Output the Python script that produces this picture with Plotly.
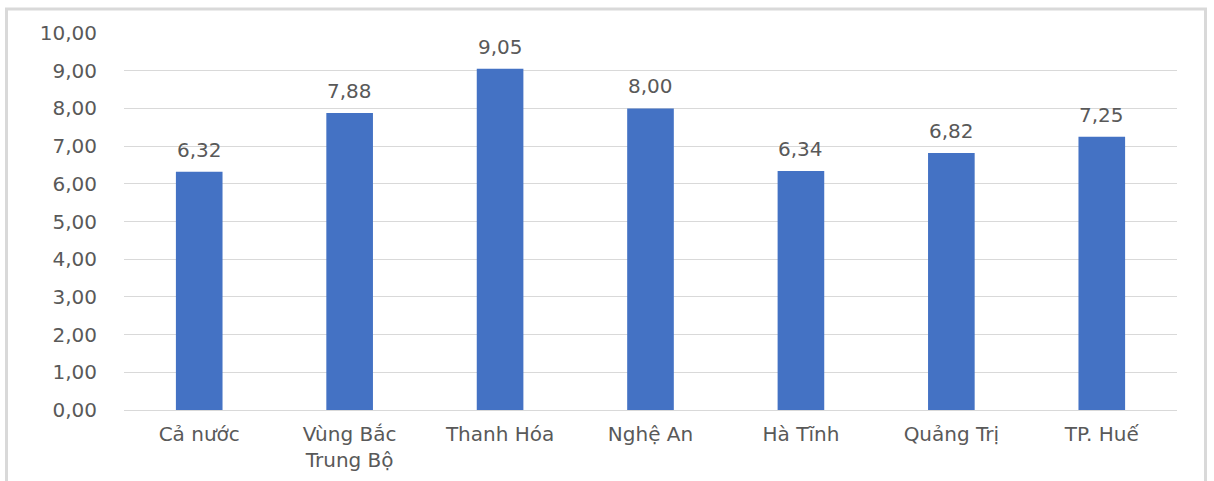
import plotly.graph_objects as go

categories = ["Cả nước", "Vùng Bắc<br>Trung Bộ", "Thanh Hóa", "Nghệ An", "Hà Tĩnh", "Quảng Trị", "TP. Huế"]
values = [6.32, 7.88, 9.05, 8.00, 6.34, 6.82, 7.25]
y_ticks = [0, 1, 2, 3, 4, 5, 6, 7, 8, 9, 10]

W, H = 1214, 481
L, R, T, B = 124, 37, 33, 71
pw, ph = W - L - R, H - T - B

font_family = "DejaVu Sans"
text_color = "#595959"
fsize = 20

fig = go.Figure(go.Bar(
    x=categories, y=values,
    marker=dict(color="#4472C4", line=dict(width=0)),
    width=0.31,
    hoverinfo="x+y",
))

for c, v in zip(categories, values):
    fig.add_annotation(
        x=c, y=v, text=f"{v:.2f}".replace(".", ","),
        showarrow=False, yanchor="bottom", yshift=8,
        font=dict(family=font_family, size=fsize, color=text_color),
    )

fig.update_layout(
    width=W, height=H,
    margin=dict(l=L, r=R, t=T, b=B, pad=0, autoexpand=False),
    paper_bgcolor="white", plot_bgcolor="white",
    separators=",.",
    showlegend=False,
    font=dict(family=font_family, size=fsize, color=text_color),
    bargap=0.69,
)
fig.update_yaxes(
    range=[0, 10], tickvals=y_ticks, tickformat=".2f",
    showgrid=True, gridcolor="#d9d9d9", gridwidth=1,
    zeroline=True, zerolinecolor="#d9d9d9", zerolinewidth=1,
    showline=False, ticks="", ticklabelstandoff=26, automargin=False,
    tickfont=dict(family=font_family, size=fsize, color=text_color),
)
fig.update_xaxes(
    showgrid=False, showline=False, ticks="",
    ticklabelstandoff=10, automargin=False,
    tickfont=dict(family=font_family, size=fsize, color=text_color),
)

# outer light-grey frame
fig.add_shape(
    type="rect", xref="paper", yref="paper",
    x0=(6.5 - L) / pw, x1=(1205.5 - L) / pw,
    y0=(H - B - 490) / ph, y1=(H - B - 9) / ph,
    line=dict(color="#d9d9d9", width=3), fillcolor="rgba(0,0,0,0)",
    layer="below",
)

fig.write_html("out.html")
